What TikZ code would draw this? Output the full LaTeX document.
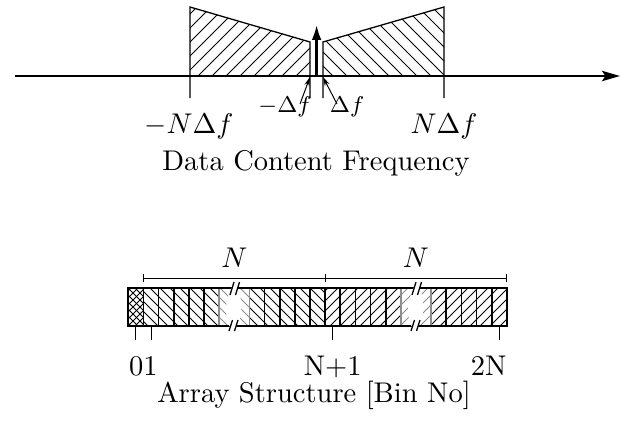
\documentclass[tikz,border=0pt]{standalone}
\usetikzlibrary{arrows.meta}
\begin{document}
\begin{tikzpicture}[x=0.351pt,y=-0.351pt,
  outl/.style={line width=0.45pt},
  hatchln/.style={line width=0.3pt},
  hatchgray/.style={line width=0.3pt,black!45},
  cellln/.style={line width=0.6pt},
  cellgray/.style={line width=0.6pt,black!45},
  tickln/.style={line width=0.35pt},
  brkmark/.style={line width=0.45pt},
  lbl/.style={font=\fontsize{10}{12}\selectfont, inner sep=0pt, anchor=base},
  smalllbl/.style={font=\footnotesize, inner sep=0pt, anchor=base}]
\useasboundingbox (0,0) rectangle (632,424);

% ---------------- top: spectrum ----------------
\begin{scope}
  \clip (190,76) -- (190,7) -- (310,42) -- (310,76) -- cycle;
  \foreach \x in {100,114,...,320} \draw[hatchln] (\x,76) -- ++(70,-70);
\end{scope}
\begin{scope}
  \clip (323,76) -- (323,42) -- (444,7) -- (444,76) -- cycle;
  \foreach \x in {250,264,...,450} \draw[hatchln] (\x,7) -- ++(70,70);
\end{scope}
\draw[outl] (190,98) -- (190,7) -- (310,42) -- (310,98);
\draw[outl] (323,98) -- (323,42) -- (444,7) -- (444,98);

\coordinate (axL) at (15,76);
\coordinate (axR) at (620,76);
\draw[line width=0.9pt,-{Stealth[length=6.3pt,width=3.6pt,inset=1.2pt]}] (axL) -- (axR);

\coordinate (c0) at (316.6,76);
\coordinate (c1) at (316.6,24);
\draw[line width=1.1pt,-{Latex[length=5.6pt,width=3.4pt]}] (c0) -- (c1);

\node[lbl] (mNf) at (189,133) {$-N\Delta f$};
\node[lbl] (pNf) at (444,133) {$N\Delta f$};
\node[smalllbl] (mdf) at (285,112) {$-\Delta f$};
\node[smalllbl] (pdf) at (347,112) {$\Delta f$};
\coordinate (mdfs) at (300,104);
\coordinate (pdfs) at (337,104);
\coordinate (mdft) at (310,77);
\coordinate (pdft) at (323,77);
\draw[line width=0.35pt,-{Stealth[length=3.2pt,width=1.8pt]}] (mdfs) -- (mdft);
\draw[line width=0.35pt,-{Stealth[length=3.2pt,width=1.8pt]}] (pdfs) -- (pdft);
\node[lbl] (dcf) at (316,170) {Data Content Frequency};

% ---------------- bottom: array ----------------
% cell 0 cross hatch
\begin{scope}
  \clip (128.3,288) rectangle (143.44,326);
  \foreach \x in {86,93,...,180} {
    \draw[hatchln] (\x,288) -- ++(38,38);
    \draw[hatchln] (\x,326) -- ++(38,-38);
  }
\end{scope}
% left half "\" hatch
\begin{scope}
  \clip (143.44,288) rectangle (219.1,326) (249.4,288) rectangle (325.1,326);
  \foreach \x in {100,110,...,330} \draw[hatchln] (\x,288) -- ++(38,38);
\end{scope}
\begin{scope}
  \clip (219.1,288) rectangle (249.4,326);
  \foreach \x in {100,110,...,330} \draw[hatchgray] (\x,288) -- ++(38,38);
\end{scope}
% right half "/" hatch
\begin{scope}
  \clip (325.1,288) rectangle (400.8,326) (431.1,288) rectangle (506.7,326);
  \foreach \x in {280,290,...,520} \draw[hatchln] (\x,326) -- ++(38,-38);
\end{scope}
\begin{scope}
  \clip (400.8,288) rectangle (431.1,326);
  \foreach \x in {280,290,...,520} \draw[hatchgray] (\x,326) -- ++(38,-38);
\end{scope}

% cell boundaries
\foreach \j in {1,2,3,4,5,9,10,11,12,13,14,15,16,17,21,22,23,24}
  \draw[cellln] (128.3+15.14*\j,288) -- (128.3+15.14*\j,326);
\foreach \j in {6,8,18,20}
  \draw[cellgray] (128.3+15.14*\j,288) -- (128.3+15.14*\j,326);

% outline
\draw[cellln] (128.3,288) rectangle (506.7,326);

% breaks (white blobs)
\fill[white] (232,287) .. controls (226,300) and (223,313) .. (230,327)
  -- (236,327) .. controls (244,313) and (242,300) .. (237.5,287) -- cycle;
\fill[white] (414,287) .. controls (408,300) and (405,313) .. (412,327)
  -- (418,327) .. controls (426,313) and (424,300) .. (419.5,287) -- cycle;
% break marks
\draw[brkmark] (230,295) -- (234,282);  \draw[brkmark] (235.5,295) -- (239.5,282);
\draw[brkmark] (229,331) -- (232.5,320); \draw[brkmark] (234.5,331) -- (238,320);
\draw[brkmark] (412,295) -- (416,282);  \draw[brkmark] (417.5,295) -- (421.5,282);
\draw[brkmark] (411,331) -- (414.5,320); \draw[brkmark] (416.5,331) -- (420,320);

% brackets
\coordinate (b1) at (143.44,278);
\coordinate (b2) at (325.1,278);
\coordinate (b3) at (506.7,278);
\draw[tickln] (b1) -- (b3);
\foreach \p in {b1,b2,b3} \draw[tickln] ([yshift=-1.4pt]\p) -- ([yshift=1.4pt]\p);
\node[lbl] (nl) at (234.3,267) {$N$};
\node[lbl] (nr) at (415.9,267) {$N$};

% bin ticks
\foreach \x in {135.9,151.0,332.7,499.2}
  \draw[tickln] (\x,326) -- (\x,340);
\node[lbl] (l01) at (143.4,375) {01};
\node[lbl] (lN1) at (332.7,375) {N+1};
\node[lbl,anchor=base east] (l2N) at (507,375) {2N};
\node[lbl] (asb) at (314,402) {Array Structure [Bin No]};
\end{tikzpicture}
\end{document}
